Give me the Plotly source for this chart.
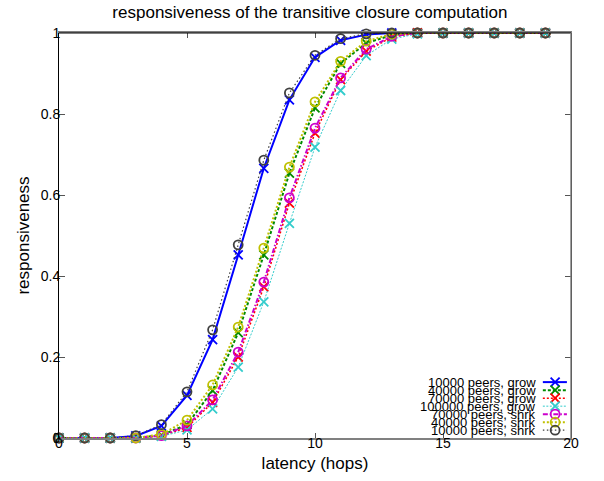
import plotly.graph_objects as go

hops = list(range(20))
grow_10000 = [0, 0, 0, 0.005, 0.030, 0.105, 0.243, 0.452, 0.666, 0.835, 0.940, 0.982, 0.996, 1, 1, 1, 1, 1, 1, 1]
grow_40000 = [0, 0, 0, 0, 0.007, 0.033, 0.117, 0.260, 0.452, 0.654, 0.815, 0.925, 0.975, 0.995, 1, 1, 1, 1, 1, 1]
grow_70000 = [0, 0, 0, 0, 0.005, 0.026, 0.088, 0.200, 0.373, 0.580, 0.753, 0.885, 0.955, 0.990, 1, 1, 1, 1, 1, 1]
grow_100000 = [0, 0, 0, 0, 0.004, 0.020, 0.072, 0.175, 0.336, 0.530, 0.718, 0.858, 0.944, 0.985, 0.998, 1, 1, 1, 1, 1]
shrk_70000 = [0, 0, 0, 0, 0.006, 0.030, 0.094, 0.212, 0.385, 0.593, 0.765, 0.889, 0.960, 0.992, 1, 1, 1, 1, 1, 1]
shrk_40000 = [0, 0, 0, 0, 0.009, 0.044, 0.131, 0.274, 0.469, 0.669, 0.830, 0.930, 0.980, 0.997, 1, 1, 1, 1, 1, 1]
shrk_10000 = [0, 0, 0, 0.006, 0.033, 0.114, 0.267, 0.477, 0.686, 0.852, 0.945, 0.986, 0.998, 1, 1, 1, 1, 1, 1, 1]

names = ["10000 peers, grow", "40000 peers, grow", "70000 peers, grow", "100000 peers, grow",
         "70000 peers, shrk", "40000 peers, shrk", "10000 peers, shrk"]
series = [grow_10000, grow_40000, grow_70000, grow_100000, shrk_70000, shrk_40000, shrk_10000]
styles = [
    dict(color="#0000ff", width=2, dash="solid", symbol="x-thin-open"),
    dict(color="#008a00", width=2, dash="3px,2px", symbol="x-thin-open"),
    dict(color="#ff0000", width=1.5, dash="2px,2px", symbol="x-thin-open"),
    dict(color="#33cccc", width=1, dash="2px,1.5px", symbol="x-thin-open"),
    dict(color="#cc00cc", width=2, dash="5px,2px,1.5px,2px", symbol="circle-open"),
    dict(color="#c0c000", width=2, dash="2px,2px", symbol="circle-open"),
    dict(color="#404040", width=1.2, dash="1.5px,2.5px", symbol="circle-open"),
]

font = "Liberation Sans, Arial, Helvetica, sans-serif"
fig = go.Figure()
for name, ys, st in zip(names, series, styles):
    fig.add_trace(go.Scatter(
        x=hops, y=ys, name=name, mode="lines+markers", cliponaxis=False, showlegend=False,
        line=dict(color=st["color"], width=st["width"], dash=st["dash"]),
        marker=dict(symbol=st["symbol"], size=9, color=st["color"],
                    line=dict(color=st["color"], width=1.8)),
    ))

# manual gnuplot-style key (text left of sample)
row0, step = 0.138, 0.0198
annotations = []
for i, (name, st) in enumerate(zip(names, styles)):
    ry = row0 - i * step
    fig.add_trace(go.Scatter(
        x=[0.945, 0.992], y=[ry, ry], xaxis="x2", yaxis="y2", mode="lines", showlegend=False,
        hoverinfo="skip", cliponaxis=False,
        line=dict(color=st["color"], width=st["width"], dash=st["dash"]),
    ))
    fig.add_trace(go.Scatter(
        x=[0.969], y=[ry], xaxis="x2", yaxis="y2", mode="markers", showlegend=False,
        hoverinfo="skip", cliponaxis=False,
        marker=dict(symbol=st["symbol"], size=9, color=st["color"],
                    line=dict(color=st["color"], width=1.8)),
    ))
    annotations.append(dict(
        x=0.9355, y=ry, xref="paper", yref="paper", text=name, showarrow=False,
        xanchor="right", yanchor="middle", font=dict(size=13, color="black", family=font),
    ))

fig.update_layout(
    width=604, height=481,
    margin=dict(l=59, r=33, t=33, b=43, autoexpand=False),
    paper_bgcolor="white", plot_bgcolor="white",
    font=dict(family=font, color="black", size=14),
    title=dict(text="responsiveness of the transitive closure computation",
               x=0.513, xanchor="center", y=0.975, yanchor="middle",
               font=dict(size=17, family=font)),
    xaxis=dict(range=[0, 20], tickvals=[0, 5, 10, 15, 20], ticks="inside", ticklen=5,
               tickcolor="#555", showgrid=False, zeroline=False, showline=True,
               linecolor="#808080", linewidth=1.5, mirror="ticks", automargin=False,
               ticklabelstandoff=-9,
               title=dict(text="latency (hops)", font=dict(size=17), standoff=8),
               tickfont=dict(size=14)),
    yaxis=dict(range=[0, 1], tickvals=[0, 0.2, 0.4, 0.6, 0.8, 1],
               ticktext=["0", "0.2", "0.4", "0.6", "0.8", "1"], ticks="inside", ticklen=6,
               tickcolor="#555", showgrid=False, zeroline=False, showline=True,
               linecolor="black", linewidth=1, mirror="ticks", automargin=False,
               ticklabelstandoff=-5,
               title=dict(text="responsiveness", font=dict(size=17), standoff=6),
               tickfont=dict(size=14)),
    xaxis2=dict(overlaying="x", range=[0, 1], visible=False, anchor="y2"),
    yaxis2=dict(overlaying="y", range=[0, 1], visible=False, anchor="x2"),
    annotations=annotations,
    shapes=[
        dict(type="line", xref="paper", yref="paper", x0=0, x1=1, y0=1, y1=1,
             line=dict(color="black", width=1.2)),
        dict(type="line", xref="paper", yref="paper", x0=1, x1=1, y0=0, y1=1,
             line=dict(color="#808080", width=1.5)),
    ],
)

fig.write_html("out.html", config={"displayModeBar": False},
               post_script="document.body.style.margin='0';")
